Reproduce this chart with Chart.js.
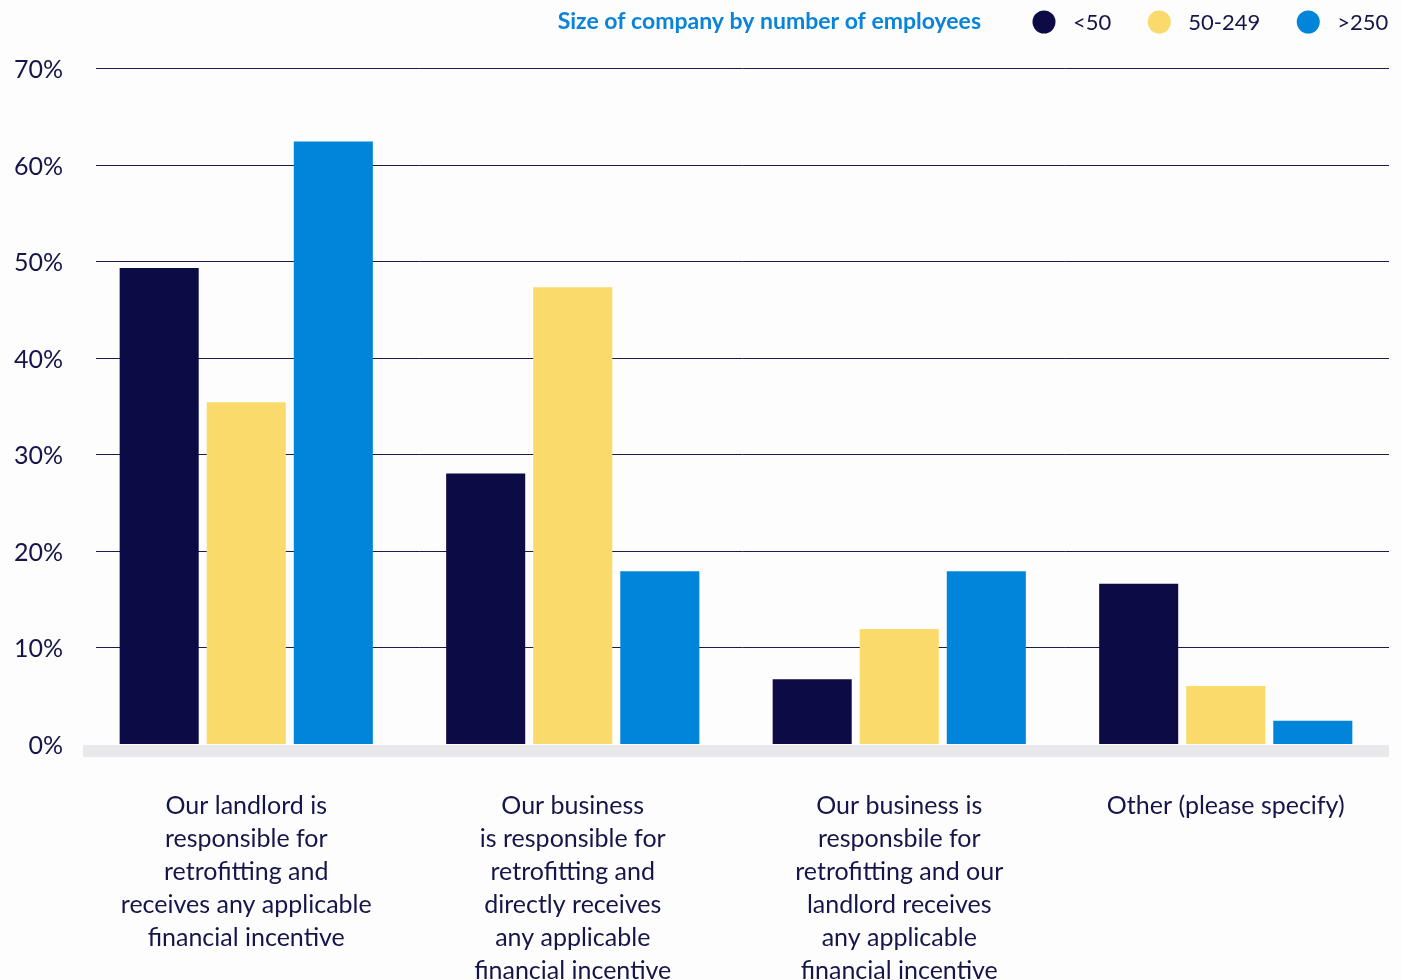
<!DOCTYPE html>
<html>
<head>
<meta charset="utf-8">
<title>Retrofitting responsibility by company size</title>
<script src="https://cdn.jsdelivr.net/npm/chart.js@4/dist/chart.umd.min.js"></script>
<style>
  html, body { margin: 0; padding: 0; background: #fdfdfd; }
  #wrap { width: 1402px; height: 980px; overflow: hidden; }
</style>
</head>
<body>
<div id="wrap"><canvas id="myChart" width="1402" height="980"></canvas></div>
<script>
// categories (multi-line labels under each group)
const categories = [
    ['Our landlord is', 'responsible for', 'retrofitting and', 'receives any applicable', 'financial incentive'],
    ['Our business', 'is responsible for', 'retrofitting and', 'directly receives', 'any applicable', 'financial incentive'],
    ['Our business is', 'responsbile for', 'retrofitting and our', 'landlord receives', 'any applicable', 'financial incentive'],
    ['Other (please specify)'],
];

const seriesNames = ['<50', '50-249', '>250'];
const under50   = [49.3, 28.0, 6.7, 16.6];
const from50    = [35.4, 47.3, 11.9, 6.0];
const over250   = [62.4, 17.9, 17.9, 2.4];
const yTicks    = [0, 10, 20, 30, 40, 50, 60, 70];

const legendTitle = 'Size of company by number of employees';
const barColors = ['#0c0b45', '#fada6a', '#0085da'];
const textColor = '#15154a';
const fontFamily = 'Lato, "Noto Sans", sans-serif';

// gridlines + grey baseline strip, drawn under the bars
const gridPlugin = {
    id: 'gridLines',
    beforeDatasetsDraw(chart) {
        const {ctx, chartArea} = chart;
        const y = chart.scales.y;
        ctx.save();
        ctx.strokeStyle = '#1c1b4d';
        ctx.lineWidth = 1;
        yTicks.forEach(v => {
            if (v === 0) return;
            const py = Math.round(y.getPixelForValue(v)) + 0.5;
            ctx.beginPath();
            ctx.moveTo(chartArea.left + 13, py);
            ctx.lineTo(chartArea.right, py);
            ctx.stroke();
        });
        const y0 = y.getPixelForValue(0);
        ctx.fillStyle = '#e8e8ea';
        ctx.fillRect(chartArea.left, y0 + 1, chartArea.right - chartArea.left, 12);
        ctx.restore();
    }
};

// inline legend with title, top right
const legendPlugin = {
    id: 'inlineLegend',
    afterDraw(chart) {
        const {ctx} = chart;
        const cy = 22;
        ctx.save();
        ctx.textBaseline = 'middle';
        ctx.font = 'bold 23px ' + fontFamily;
        ctx.fillStyle = '#0a84d8';
        ctx.textAlign = 'right';
        ctx.fillText(legendTitle, 981, cy);

        ctx.textAlign = 'left';
        ctx.font = '22px ' + fontFamily;
        let cx = 1044;
        chart.data.datasets.forEach(ds => {
            ctx.fillStyle = ds.backgroundColor;
            ctx.beginPath();
            ctx.arc(cx, cy, 11.5, 0, Math.PI * 2);
            ctx.fill();
            ctx.fillStyle = textColor;
            ctx.fillText(ds.label, cx + 29, cy + 1);
            cx += 29 + ctx.measureText(ds.label).width + 48;
        });
        ctx.restore();
    }
};

const ctx = document.getElementById('myChart').getContext('2d');

const data = {
    labels: categories,
    datasets: [under50, from50, over250].map((vals, i) => ({
        label: seriesNames[i],
        data: vals,
        backgroundColor: barColors[i],
        borderWidth: 0,
        categoryPercentage: 0.8,
        barPercentage: 0.908,
    })),
};

const myChart = new Chart(ctx, {
    type: 'bar',
    data: data,
    plugins: [gridPlugin, legendPlugin],
    options: {
        responsive: false,
        animation: false,
        layout: { padding: { top: 68, right: 13, bottom: 0, left: 0 } },
        plugins: {
            legend: { display: false },
            tooltip: { enabled: false },
        },
        scales: {
            x: {
                grid: { display: false },
                border: { display: false },
                afterFit: s => { s.height = 236; },
                ticks: {
                    color: textColor,
                    padding: 37,
                    maxRotation: 0,
                    autoSkip: false,
                    font: { family: fontFamily, size: 25, lineHeight: '33px' },
                },
            },
            y: {
                min: 0,
                max: 70,
                grid: { display: false },
                border: { display: false },
                afterFit: s => { s.width = 83; },
                afterBuildTicks: s => { s.ticks = yTicks.map(v => ({value: v})); },
                ticks: {
                    color: textColor,
                    padding: 12,
                    labelOffset: 2,
                    font: { family: fontFamily, size: 25 },
                    callback: v => v + '%',
                },
            },
        },
    },
});
</script>
</body>
</html>
